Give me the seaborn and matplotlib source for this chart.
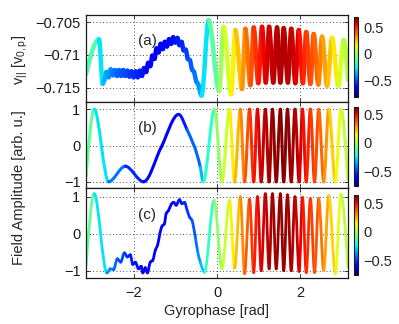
import numpy as np
import matplotlib
matplotlib.use('Agg')
import matplotlib.pyplot as plt
from matplotlib.path import Path
from matplotlib.patches import PathPatch
from matplotlib.colors import Normalize
from matplotlib.cm import ScalarMappable
import seaborn as sns

# ---- data ----
# (a) parallel velocity of the particles
a_phase = [-3.14, -2.83, -2.74,
           -2.70, -2.65, -2.60, -2.55, -2.50, -2.45, -2.40, -2.35, -2.30, -2.25,
           -2.20, -2.15, -2.10, -2.05, -2.00, -1.95, -1.90, -1.85, -1.80, -1.75,
           -1.70, -1.65, -1.60, -1.55, -1.50, -1.45, -1.40, -1.35, -1.30, -1.25,
           -1.20, -1.15, -1.10, -1.05, -1.00, -0.95, -0.90, -0.85, -0.80, -0.75,
           -0.70, -0.65, -0.60, -0.55, -0.50, -0.45, -0.40, -0.37, -0.20,
           0.05, 0.16, 0.34, 0.44, 0.60, 0.68, 0.80, 0.88, 0.99, 1.08, 1.17, 1.25,
           1.35, 1.44, 1.52, 1.60, 1.70, 1.78, 1.88, 1.96, 2.06, 2.14, 2.24, 2.32,
           2.43, 2.52, 2.64, 2.76, 2.91, 3.04, 3.14]
a_vpar = [-0.7129, -0.7076, -0.7144,
          -0.7138, -0.7126, -0.7134, -0.7122, -0.7131, -0.7123, -0.7132, -0.7123, -0.7132, -0.7123,
          -0.7132, -0.7124, -0.7133, -0.7125, -0.7134, -0.7125, -0.7134, -0.7124, -0.7132, -0.7120,
          -0.7126, -0.7112, -0.7117, -0.7101, -0.7106, -0.7090, -0.7096, -0.7083, -0.7091, -0.7080,
          -0.7087, -0.7076, -0.7083, -0.7073, -0.7081, -0.7074, -0.7085, -0.7080, -0.7093, -0.7092,
          -0.7106, -0.7108, -0.7122, -0.7126, -0.7140, -0.7145, -0.7158, -0.7162, -0.7047,
          -0.7155, -0.7057, -0.7160, -0.7062, -0.7152, -0.7060, -0.7146, -0.7058, -0.7143, -0.7057,
          -0.7142, -0.7057, -0.7142, -0.7058, -0.7142, -0.7059, -0.7142, -0.7060, -0.7143, -0.7062,
          -0.7143, -0.7065, -0.7144, -0.7068, -0.7145, -0.7072, -0.7147, -0.7074, -0.7147, -0.7077,
          -0.7138]
a_colour = [-0.05, -0.25, -0.33,
            -0.36, -0.38, -0.40, -0.42, -0.44, -0.46, -0.48, -0.49, -0.50, -0.51,
            -0.52, -0.53, -0.54, -0.55, -0.56, -0.57, -0.58, -0.59, -0.60, -0.61,
            -0.62, -0.63, -0.63, -0.64, -0.64, -0.65, -0.65, -0.65, -0.65, -0.65,
            -0.64, -0.64, -0.63, -0.62, -0.61, -0.60, -0.59, -0.58, -0.57, -0.55,
            -0.53, -0.51, -0.49, -0.47, -0.45, -0.42, -0.39, -0.36, -0.22,
            -0.04, 0.05, 0.14, 0.20, 0.29, 0.34, 0.41, 0.45, 0.50, 0.53, 0.56, 0.58,
            0.60, 0.61, 0.62, 0.62, 0.61, 0.60, 0.58, 0.55, 0.51, 0.47, 0.44, 0.41,
            0.37, 0.33, 0.27, 0.22, 0.14, 0.06, 0.01]

# (b) field amplitude, smooth
b_phase = [-3.14, -2.945, -2.60, -2.20, -1.76, -1.34, -0.92, -0.72, -0.40, -0.33,
           -0.06, 0.12, 0.30, 0.42, 0.56, 0.66, 0.78, 0.88, 0.97, 1.06, 1.16, 1.25,
           1.33, 1.42, 1.52, 1.60, 1.69, 1.78, 1.87, 1.97, 2.05, 2.14, 2.24, 2.34,
           2.44, 2.56, 2.68, 2.84, 2.97, 3.14]
b_field = [-0.85, 1.0, -1.0, -0.57, -1.0, -0.05, 0.86, 0.44, -0.6, -1.0,
           1.0, -1.0, 1.0, -1.0, 1.0, -1.0, 1.0, -1.0, 1.0, -1.0, 1.0, -1.0,
           1.0, -1.0, 1.0, -1.0, 1.0, -1.0, 1.0, -1.0, 1.0, -1.0, 1.0, -1.0,
           1.0, -1.0, 1.0, -1.0, 1.0, -0.95]
b_colour = [-0.05, -0.17, -0.36, -0.48, -0.57, -0.60, -0.57, -0.52, -0.36, -0.30,
            -0.08, 0.04, 0.12, 0.20, 0.28, 0.35, 0.42, 0.46, 0.50, 0.53, 0.56, 0.58,
            0.60, 0.61, 0.62, 0.62, 0.61, 0.60, 0.58, 0.54, 0.50, 0.47, 0.44, 0.41,
            0.38, 0.32, 0.24, 0.17, 0.08, 0.02]

# (c) field amplitude, with ripples
c_phase = [-3.14, -2.945, -2.64, -2.56, -2.48, -2.39, -2.31, -2.22, -2.15, -2.08,
           -2.02, -1.96, -1.88, -1.82, -1.78, -1.72, -1.67, -1.60, -1.54, -1.48,
           -1.42, -1.37, -1.32, -1.26, -1.22, -1.16, -1.10, -1.04, -0.98, -0.90,
           -0.84, -0.78, -0.72, -0.66, -0.60, -0.52, -0.47, -0.40, -0.30,
           -0.07, 0.12, 0.30, 0.42, 0.56, 0.66, 0.78, 0.88, 0.97, 1.06,
           1.16, 1.25, 1.33, 1.42, 1.52, 1.60, 1.69, 1.78, 1.87, 1.97,
           2.05, 2.14, 2.24, 2.34, 2.44, 2.56, 2.68, 2.84, 2.97, 3.14]
c_field = [-0.86, 1.08, -1.06, -0.95, -0.97, -0.68, -0.77, -0.52, -0.63, -0.57,
           -0.83, -0.77, -0.95, -0.88, -1.06, -0.92, -1.06, -0.77, -0.72, -0.45,
           -0.29, 0.0, 0.2, 0.27, 0.54, 0.63, 0.79, 0.85, 0.77, 0.92,
           0.81, 0.85, 0.65, 0.45, 0.36, -0.09, -0.45, -0.77, -1.04,
           0.9, -0.95, 0.9, -0.93, 1.0, -1.08, 0.93, -1.05, 1.0, -1.0,
           1.08, -0.95, 1.08, -0.95, 1.08, -1.0, 1.05, -1.0, 1.0, -1.02,
           0.98, -1.05, 0.95, -1.05, 0.95, -1.0, 1.03, -1.08, 1.06, -0.9]
c_colour = [-0.05, -0.17, -0.36, -0.40, -0.43, -0.46, -0.48, -0.50, -0.52, -0.53,
            -0.55, -0.56, -0.57, -0.58, -0.58, -0.59, -0.59, -0.60, -0.60, -0.61,
            -0.61, -0.61, -0.61, -0.60, -0.60, -0.60, -0.59, -0.58, -0.57, -0.56,
            -0.55, -0.53, -0.52, -0.50, -0.48, -0.44, -0.41, -0.36, -0.28,
            -0.08, 0.04, 0.12, 0.20, 0.28, 0.35, 0.42, 0.46, 0.50, 0.53,
            0.56, 0.58, 0.60, 0.61, 0.62, 0.62, 0.61, 0.60, 0.58, 0.54,
            0.50, 0.47, 0.44, 0.41, 0.38, 0.32, 0.24, 0.17, 0.08, 0.02]

colour_limits = [(-0.82, 0.69), (-0.75, 0.63), (-0.76, 0.65)]
x_ticks = [-2, 0, 2]
x_ticklabels = ['\u22122', '0', '2']

# ---- style ----
sns.set_theme(style='white')
plt.rcParams['font.family'] = ['Liberation Sans', 'DejaVu Sans']
plt.rcParams['mathtext.fontset'] = 'custom'
plt.rcParams['mathtext.rm'] = 'Liberation Sans'
plt.rcParams['mathtext.it'] = 'Liberation Sans'
jet = matplotlib.colormaps['jet']
FS = 10.5


def draw_curve(ax, x, y, c, norm, lw):
    # smooth (monotone cubic) path through the read points, one colour per piece
    x = np.asarray(x, float)
    y = np.asarray(y, float)
    h = np.diff(x)
    s = np.diff(y) / h
    m = np.zeros(len(x))
    for i in range(1, len(x) - 1):
        p = (s[i - 1] * h[i] + s[i] * h[i - 1]) / (h[i - 1] + h[i])
        m[i] = (np.sign(s[i - 1]) + np.sign(s[i])) * min(abs(s[i - 1]), abs(s[i]), 0.5 * abs(p))
    m[0] = (3 * s[0] - m[1]) / 2
    m[-1] = (3 * s[-1] - m[-2]) / 2
    for i in range(len(h)):
        d = h[i] / 3
        verts = [(x[i], y[i]), (x[i] + d, y[i] + m[i] * d),
                 (x[i + 1] - d, y[i + 1] - m[i + 1] * d), (x[i + 1], y[i + 1])]
        path = Path(verts, [Path.MOVETO, Path.CURVE4, Path.CURVE4, Path.CURVE4])
        col = jet(norm((c[i] + c[i + 1]) / 2))
        ax.add_patch(PathPatch(path, fill=False, edgecolor=col, lw=lw,
                               capstyle='round', joinstyle='round'))


fig = plt.figure(figsize=(3.99, 3.24), dpi=100)
L, W = 86 / 399, 262 / 399
ax_a = fig.add_axes([L, 0.6867, W, 0.2670])
ax_b = fig.add_axes([L, 0.4188, W, 0.2679])
ax_c = fig.add_axes([L, 0.1429, W, 0.2759])
cax_a = fig.add_axes([0.886, 0.7006, 0.0113, 0.2469])
cax_b = fig.add_axes([0.886, 0.4259, 0.0113, 0.2448])
cax_c = fig.add_axes([0.886, 0.1512, 0.0113, 0.2469])

panels = [
    (ax_a, cax_a, a_phase, a_vpar, a_colour, 3.2, (-0.7171, -0.7039),
     [-0.715, -0.71, -0.705], ['\u22120.715', '\u22120.71', '\u22120.705'], '(a)'),
    (ax_b, cax_b, b_phase, b_field, b_colour, 2.2, (-1.18, 1.215),
     [-1, 0, 1], ['\u22121', '0', '1'], '(b)'),
    (ax_c, cax_c, c_phase, c_field, c_colour, 2.0, (-1.19, 1.227),
     [-1, 0, 1], ['\u22121', '0', '1'], '(c)'),
]

for k, (ax, cax, xs, ys, cs, lw, ylim, yt, ytl, tag) in enumerate(panels):
    norm = Normalize(*colour_limits[k])
    draw_curve(ax, xs, ys, cs, norm, lw)
    ax.set_xlim(-np.pi, np.pi)
    ax.set_ylim(*ylim)
    ax.set_xticks(x_ticks)
    ax.set_yticks(yt)
    ax.set_yticklabels(ytl, fontsize=FS)
    if ax is ax_c:
        ax.set_xticklabels(x_ticklabels, fontsize=FS)
    else:
        ax.set_xticklabels([])
    ax.grid(True, linestyle=(0, (1, 3)), color='k', lw=0.6)
    ax.tick_params(direction='in', length=3, width=0.6, top=True, right=True,
                   bottom=True, left=True, pad=4, colors='k')
    ax.tick_params(axis='x', pad=6)
    for sp in ax.spines.values():
        sp.set_color('k')
        sp.set_linewidth(0.9)
    ax.text(0.233, 0.70, tag, transform=ax.transAxes, ha='center', va='center',
            fontsize=11)

    cb = fig.colorbar(ScalarMappable(norm=norm, cmap=jet), cax=cax)
    cb.set_ticks([-0.5, 0, 0.5])
    cb.set_ticklabels(['\u22120.5', '0', '0.5'])
    cb.ax.tick_params(labelsize=FS, length=2, width=0.5, direction='in', pad=4)
    cb.outline.set_linewidth(0.8)
    cb.outline.set_edgecolor('k')

fig.text(20 / 399, (324 - 60) / 324, r'v$_{||}$ [v$_{0,p}$]', rotation=90,
         ha='center', va='center', fontsize=FS)
fig.text(19 / 399, (324 - 187.5) / 324, 'Field Amplitude [arb. u.]', rotation=90,
         ha='center', va='center', fontsize=FS)
fig.text(217 / 399, (324 - 311) / 324, 'Gyrophase [rad]', ha='center', va='center',
         fontsize=FS)

fig.savefig('out.png', dpi=100, facecolor='white')
